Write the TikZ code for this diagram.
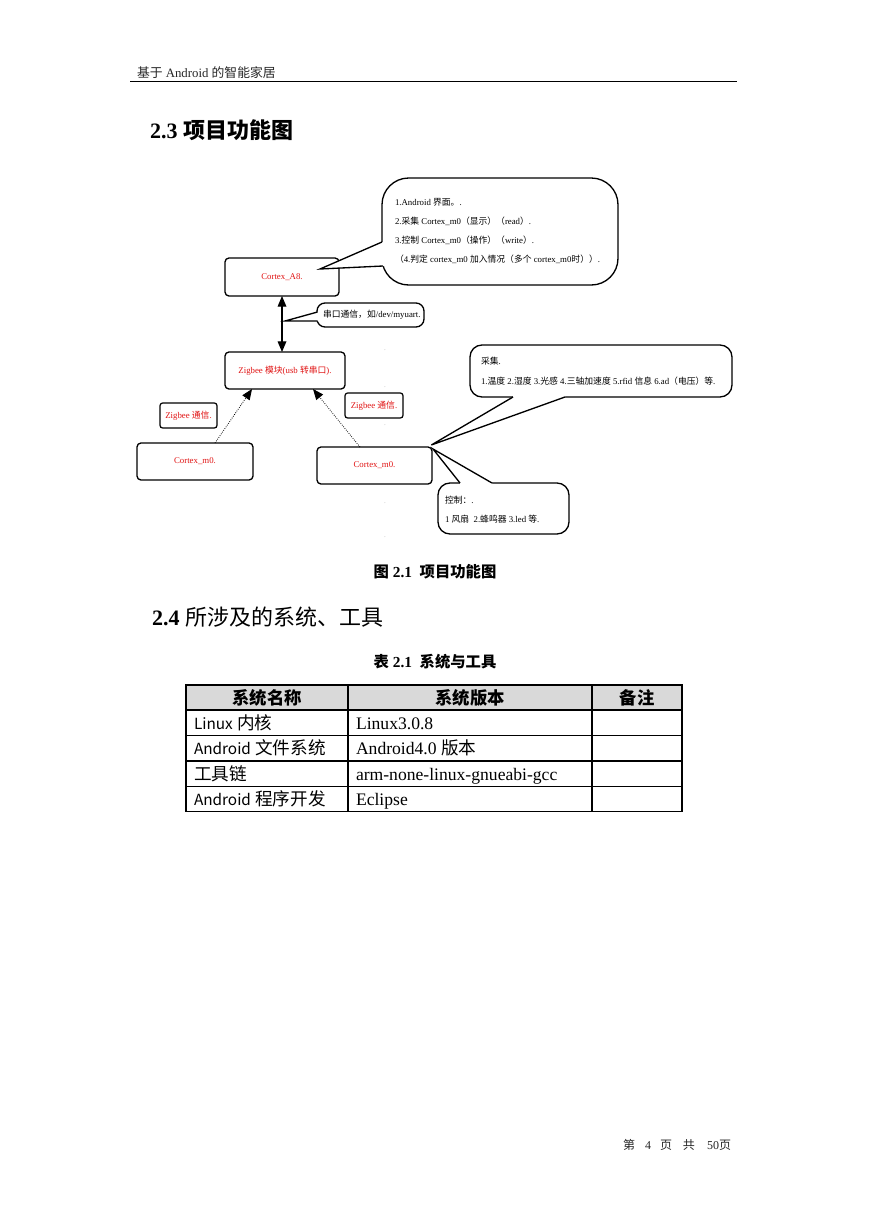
\documentclass[tikz,border=0pt]{standalone}
\usepackage{fontspec}
\setmainfont{Liberation Serif}
\newfontfamily\cjk{Noto Sans CJK SC}
\usetikzlibrary{arrows.meta}
\XeTeXinterchartokenstate=1
\newXeTeXintercharclass\cjkclass
\makeatletter
\def\cjkrange#1#2{\count@=#1\relax\loop\ifnum\count@<#2\relax\XeTeXcharclass\count@=\cjkclass\advance\count@\@ne\repeat}
\cjkrange{"3000}{"3040}
\cjkrange{"4E00}{"A000}
\cjkrange{"FF00}{"FFF0}
\ifdefined\e@alloc@intercharclass@top \let\cjkbnd\e@alloc@intercharclass@top \else \chardef\cjkbnd=255 \fi
\XeTeXinterchartoks 0 \cjkclass = {\cjk}
\XeTeXinterchartoks \cjkbnd \cjkclass = {\cjk}
\XeTeXinterchartoks \cjkclass 0 = {\rmfamily}
\XeTeXinterchartoks \cjkclass \cjkbnd = {\rmfamily}
\makeatother
\newcommand\tlat[1]{{\cjk\fontsize{11.5}{14}\selectfont #1}}
\definecolor{diared}{RGB}{225,20,20}
\definecolor{hdrgray}{RGB}{217,217,217}
\begin{document}
\begin{tikzpicture}[x=0.75pt,y=-0.75pt,
  every node/.style={inner sep=0pt, outer sep=0pt},
  dfont/.style={font=\fontsize{6.6}{8}\selectfont},
  box/.style={draw, rounded corners=3pt, line width=1pt, fill=white, dfont, text=diared},
  lbl/.style={draw, rounded corners=2pt, line width=0.9pt, fill=white, dfont, text=diared},
  cbub/.style={draw, line width=1pt, fill=white},
  ctext/.style={anchor=west, align=left, text=black},
  wedge/.style={line width=1pt, line join=miter},
  pmark/.style={font=\fontsize{4}{4}\selectfont, text=black!50},
  thd/.style={font=\fontsize{13}{15}\selectfont\bfseries},
  tbd/.style={anchor=base west, font=\fontsize{13.2}{15}\selectfont},
  >={Triangle[length=8pt,width=6.5pt]}
]
\fill[white] (0,0) rectangle (869,1228);
\useasboundingbox (0,0) rectangle (869,1228);

% page header
\node[anchor=base west, font=\fontsize{9.6}{11}\selectfont, text=black!85] (hdr) at (137,77) {基于 Android 的智能家居};
\draw[line width=1.1pt] (130,81.5) -- (737,81.5);

% heading 2.3
\node[anchor=base west, font=\fontsize{16.5}{18}\selectfont\bfseries] (h23) at (150,138) {2.3 项目功能图};

% diagram boxes
\node[box, minimum width=85.5pt, minimum height=28.5pt] (a8) at (282,277) {Cortex\_A8.};
\node[box, minimum width=90pt, minimum height=27.75pt] (zig) at (285,370.5) {Zigbee 模块(usb 转串口).};
\node[box, minimum width=87pt, minimum height=27.75pt] (m0l) at (195,461.5) {Cortex\_m0.};
\node[box, minimum width=86.25pt, minimum height=27.75pt] (m0r) at (374.5,465.5) {Cortex\_m0.};
\node[lbl, minimum width=42.75pt, minimum height=18.75pt] (zl) at (188.5,415.5) {Zigbee 通信.};
\node[lbl, minimum width=43.5pt, minimum height=18.75pt] (zr) at (374,405.5) {Zigbee 通信.};

% connectors
\draw[line width=0.9pt, <->] (a8.south) -- (a8.south |- zig.north);
\draw[densely dotted, line width=0.6pt, ->] ([xshift=15pt]m0l.north) -- ([xshift=-24.75pt]zig.south);
\draw[densely dotted, line width=0.6pt, ->] ([xshift=-10.9pt]m0r.north) -- ([xshift=21pt]zig.south);

% paragraph marks
\node[pmark] (p1) at (385,350) {.};
\node[pmark] (p2) at (385,387) {.};
\node[pmark] (p3) at (385,425) {.};
\node[pmark] (p4) at (385,503) {.};
\node[pmark] (p5) at (385,537) {.};

% callout 1 (Cortex_A8)
\node[cbub, rounded corners=20pt, minimum width=177pt, minimum height=80.25pt] (c1) at (500,231.5) {};
\coordinate (c1tip) at (320,269);
\coordinate (c1b1) at (382,242);
\coordinate (c1b2) at (383,266);
\fill[white] (c1tip) -- (c1b1) -- ++(4,0) -- ([xshift=3pt]c1b2) -- (c1b2) -- cycle;
\draw[wedge] (c1b1) -- (c1tip) -- (c1b2);
\node[ctext, font=\fontsize{6.6}{14.25}\selectfont] (c1t) at ([xshift=9.75pt]c1.west) {1.Android 界面。.\\2.采集 Cortex\_m0（显示）（read）.\\3.控制 Cortex\_m0（操作）（write）.\\（4.判定 cortex\_m0 加入情况（多个 cortex\_m0时））.};

% serial callout
\node[cbub, rounded corners=6pt, minimum width=80.25pt, minimum height=18pt] (cs) at (370.5,315) {};
\coordinate (cstip) at (285,321);
\coordinate (csb1) at (317.5,312);
\coordinate (csb2) at (317.5,321);
\fill[white] (cstip) -- (csb1) -- ++(3,0) -- ([xshift=2.25pt]csb2) -- (csb2) -- cycle;
\draw[wedge] (csb1) -- (cstip) -- (csb2);
\node[ctext, font=\fontsize{6.6}{8}\selectfont] (cst) at ([xshift=4.5pt]cs.west) {串口通信，如/dev/myuart.};

% callout 2 (collect)
\node[cbub, rounded corners=9pt, minimum width=196.5pt, minimum height=39pt] (c2) at (601,371) {};
\coordinate (c2tip) at ([xshift=-0.5pt,yshift=1.5pt]m0r.north east);
\coordinate (c2b1) at (513,397);
\coordinate (c2b2) at (565,397);
\fill[white] (c2tip) -- (c2b1) -- ++(0,-4) -- ([yshift=3pt]c2b2) -- (c2b2) -- cycle;
\draw[wedge] (c2b1) -- (c2tip) -- (c2b2);
\node[ctext, font=\fontsize{6.6}{15}\selectfont] (c2t) at ([xshift=8.25pt]c2.west) {采集.\\1.温度 2.湿度 3.光感 4.三轴加速度 5.rfid 信息 6.ad（电压）等.};

% callout 3 (control)
\node[cbub, rounded corners=9pt, minimum width=98.25pt, minimum height=38.25pt] (c3) at (503.5,508.5) {};
\coordinate (c3tip) at ([xshift=0.75pt,yshift=-1.5pt]m0r.north east);
\coordinate (c3b1) at (460,483);
\coordinate (c3b2) at (492,483);
\fill[white] (c3tip) -- (c3b1) -- ++(0,4) -- ([yshift=-3pt]c3b2) -- (c3b2) -- cycle;
\draw[wedge] (c3b1) -- (c3tip) -- (c3b2);
\node[ctext, font=\fontsize{6.6}{14.25}\selectfont] (c3t) at ([xshift=5.25pt,yshift=-0.75pt]c3.west) {控制：.\\1 风扇\ \ 2.蜂鸣器 3.led 等.};

% caption
\node[font=\fontsize{11.5}{13}\selectfont\bfseries] (cap) at (435,572) {图\ 2.1\ \ 项目功能图};

% heading 2.4
\node[anchor=base west, font=\fontsize{16.5}{18}\selectfont] (h24) at (152,625) {{\bfseries 2.4} 所涉及的系统、工具};

% table title
\node[font=\fontsize{11.5}{13}\selectfont\bfseries] (ttl) at (435,662) {表\ 2.1\ \ 系统与工具};

% table
\fill[hdrgray] (186,685) rectangle (682,710);
\draw[line width=0.8pt] (186,710) -- (682,710) (186,735.5) -- (682,735.5) (186,761) -- (682,761) (186,786.5) -- (682,786.5)
  (348,685) -- (348,811.5) (592,685) -- (592,811.5);
\draw[line width=1.4pt] (186,685) rectangle (682,811.5);
\node[thd] (t00) at (267,697.5) {系统名称};
\node[thd] (t01) at (470,697.5) {系统版本};
\node[thd] (t02) at (637,697.5) {备注};
\node[tbd] (t10) at (194,729.25) {\tlat{Linux} 内核};
\node[tbd] (t11) at (356,729.25) {Linux3.0.8};
\node[tbd] (t20) at (194,754.75) {\tlat{Android} 文件系统};
\node[tbd] (t21) at (356,754.75) {Android4.0 版本};
\node[tbd] (t30) at (194,780.25) {工具链};
\node[tbd] (t31) at (356,780.25) {arm-none-linux-gnueabi-gcc};
\node[tbd] (t40) at (194,805.75) {\tlat{Android} 程序开发};
\node[tbd] (t41) at (356,805.75) {Eclipse};

% footer
\node[anchor=west, font=\fontsize{9}{11}\selectfont, text=black!85] (ftr) at (623,1145) {第\hspace{7.5pt}4\hspace{6.75pt}页\hspace{8.25pt}共\hspace{9pt}50页};
\end{tikzpicture}
\end{document}
